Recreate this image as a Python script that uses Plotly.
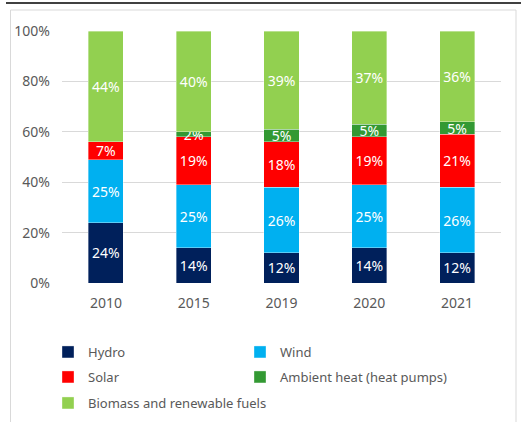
import plotly.graph_objects as go

years = ["2010", "2015", "2019", "2020", "2021"]
hydro = [24, 14, 12, 14, 12]
wind = [25, 25, 26, 25, 26]
solar = [7, 19, 18, 19, 21]
ambient = [0, 2, 5, 5, 5]
biomass = [44, 40, 39, 37, 36]
ytick_vals = [0, 20, 40, 60, 80, 100]
ytick_text = ["0%", "20%", "40%", "60%", "80%", "100%"]

W, H = 521, 422
L, R, T, B = 62, 20, 31, 139
pw, ph = W - L - R, H - T - B

def px(x):
    return (x - L) / pw

def py(y):
    return (H - B - y) / ph

# name, values, colour, legend id, legend text position (px)
series = [
    ("Hydro", hydro, "#00205B", "legend", (48, 352)),
    ("Wind", wind, "#00B0F0", "legend2", (240, 352)),
    ("Solar", solar, "#FF0000", "legend3", (48, 377)),
    ("Ambient heat (heat pumps)", ambient, "#339933", "legend4", (240, 377)),
    ("Biomass and renewable fuels", biomass, "#92D050", "legend5", (48, 403)),
]

FONT = "Noto Sans"
fig = go.Figure()
legends = {}
leg_common = dict(orientation="h",
                  font=dict(family=FONT, size=13, color="#595959"),
                  bgcolor="rgba(0,0,0,0)", itemwidth=30, traceorder="normal",
                  xanchor="left", yanchor="middle")
for name, vals, color, lg, (lx, ly) in series:
    fig.add_trace(go.Bar(
        x=years, y=vals, name=name,
        marker=dict(color=color, line=dict(color="rgba(255,255,255,0.45)", width=0.8)),
        text=[f"{v}%" if v > 0 else "" for v in vals],
        textposition="inside", insidetextanchor="middle",
        constraintext="none", textangle=0,
        textfont=dict(color="white", size=14, family=FONT),
        width=0.4, legend=lg,
    ))
    legends[lg] = dict(x=px(lx), y=py(ly), **leg_common)

fig.update_layout(
    width=W, height=H,
    margin=dict(l=L, r=R, t=T, b=B, autoexpand=False),
    barmode="stack",
    plot_bgcolor="white", paper_bgcolor="white",
    font=dict(family=FONT, color="#595959"),
    showlegend=True,
    xaxis=dict(type="category", showgrid=False, showline=False, ticks="",
               ticklabelstandoff=10,
               tickfont=dict(size=14, color="#595959", family=FONT)),
    yaxis=dict(range=[0, 100], tickvals=ytick_vals, ticktext=ytick_text,
               showgrid=True, gridcolor="#D9D9D9", gridwidth=1, zeroline=False,
               showline=False, ticks="", ticklabelstandoff=11,
               tickfont=dict(size=14, color="#595959", family=FONT)),
    shapes=[
        dict(type="line", xref="paper", yref="paper", x0=px(6), x1=px(521), y0=py(3), y1=py(3),
             line=dict(color="black", width=1.5)),
        dict(type="rect", xref="paper", yref="paper", x0=px(10.5), x1=px(516), y0=py(10), y1=py(440),
             line=dict(color="#D9D9D9", width=1), fillcolor="rgba(0,0,0,0)", layer="below"),
    ],
    **legends,
)

fig.write_html("out.html")
